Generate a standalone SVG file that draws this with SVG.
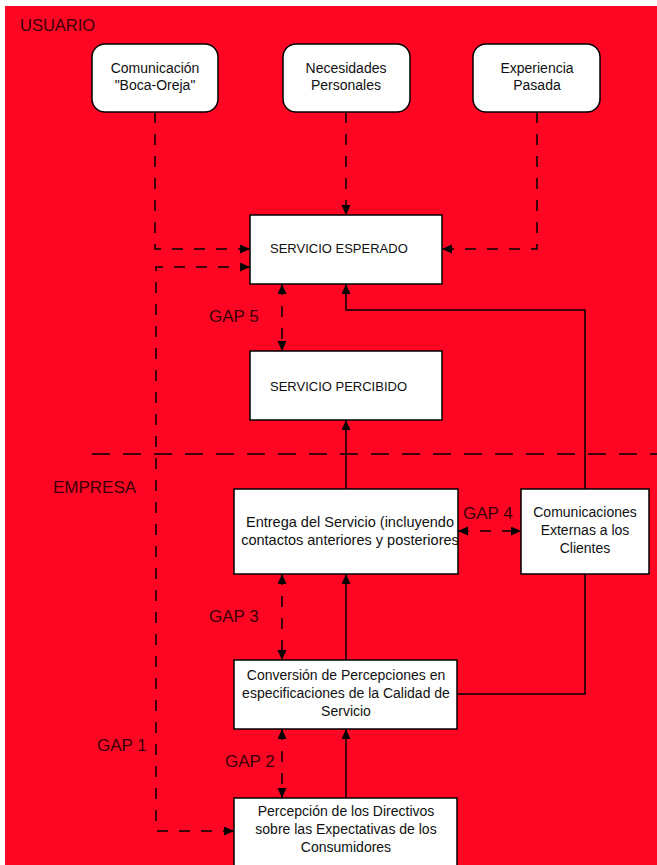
<svg xmlns="http://www.w3.org/2000/svg" width="657" height="865" viewBox="0 0 657 865">
<style>
.box{fill:#fff;stroke:#000;stroke-width:1.5}
.t{font-family:"Liberation Sans",Arial,sans-serif;font-size:14px;fill:#111;text-anchor:middle}
.ts{font-family:"Liberation Sans",Arial,sans-serif;font-size:13px;fill:#111}
.lbl{font-family:"Liberation Sans",Arial,sans-serif;font-size:17px;fill:#3a0008}
.c{fill:none;stroke:#000;stroke-width:1.5}
.d{stroke-dasharray:11 11}
</style>
<defs>
<marker id="ah" markerUnits="userSpaceOnUse" markerWidth="12" markerHeight="10" refX="10" refY="4.5" orient="auto-start-reverse">
<path d="M0,0 L10,4.5 L0,9 Z" fill="#000"/>
</marker>
</defs>
<rect x="0" y="0" width="657" height="865" fill="#fff"/>
<rect x="5" y="6" width="652" height="859" fill="#fe0523"/>
<text class="lbl" x="20" y="31" style="font-size:16.5px">USUARIO</text>
<text class="lbl" x="53" y="493">EMPRESA</text>
<line x1="92" y1="454" x2="657" y2="454" stroke="#000" stroke-width="1.5" stroke-dasharray="18 13"/>
<g id="connectors">
<path class="c d" d="M155,112 V249 H250" marker-end="url(#ah)"/>
<path class="c d" d="M346,112 V215" marker-end="url(#ah)"/>
<path class="c d" d="M537,112 V249 H442" marker-end="url(#ah)"/>
<path class="c d" d="M234,831 H156 V267 H250" marker-start="url(#ah)" marker-end="url(#ah)"/>
<path class="c d" d="M282,284 V351" marker-start="url(#ah)" marker-end="url(#ah)"/>
<path class="c d" d="M458,531 H521" marker-start="url(#ah)" marker-end="url(#ah)"/>
<path class="c d" d="M282,574 V660" marker-start="url(#ah)" marker-end="url(#ah)"/>
<path class="c d" d="M282,729 V798" marker-start="url(#ah)" marker-end="url(#ah)"/>
<path class="c" d="M346,489 V420" marker-end="url(#ah)"/>
<path class="c" d="M346,660 V574" marker-end="url(#ah)"/>
<path class="c" d="M346,798 V729" marker-end="url(#ah)"/>
<path class="c" d="M585,489 V310 H346 V284" marker-end="url(#ah)"/>
<path class="c" d="M457,694 H585 V574"/>
<text class="lbl" x="209" y="322">GAP 5</text>
<text class="lbl" x="463" y="519">GAP 4</text>
<text class="lbl" x="209" y="622">GAP 3</text>
<text class="lbl" x="225" y="767">GAP 2</text>
<text class="lbl" x="97" y="751">GAP 1</text>
</g>
<g id="boca-oreja">
<rect class="box" x="92" y="44" width="126" height="68" rx="13"/>
<text class="t" x="155" y="73">Comunicación</text>
<text class="t" x="155" y="90">"Boca-Oreja"</text>
</g>
<g id="necesidades">
<rect class="box" x="283" y="44" width="127" height="68" rx="13"/>
<text class="t" x="346" y="73">Necesidades</text>
<text class="t" x="346" y="90">Personales</text>
</g>
<g id="experiencia">
<rect class="box" x="473" y="44" width="127" height="68" rx="13"/>
<text class="t" x="537" y="73">Experiencia</text>
<text class="t" x="537" y="90">Pasada</text>
</g>
<g id="esperado">
<rect class="box" x="250" y="215" width="192" height="69"/>
<text class="ts" x="270" y="253">SERVICIO ESPERADO</text>
</g>
<g id="percibido">
<rect class="box" x="250" y="351" width="192" height="69"/>
<text class="ts" x="270" y="391">SERVICIO PERCIBIDO</text>
</g>
<g id="entrega">
<rect class="box" x="234" y="489" width="224" height="85"/>
<text class="t" x="350" y="527" style="font-size:14.5px">Entrega del Servicio (incluyendo</text>
<text class="t" x="350" y="545" style="font-size:14.5px">contactos anteriores y posteriores</text>
</g>
<g id="comunicaciones">
<rect class="box" x="521" y="489" width="128" height="85"/>
<text class="t" x="585" y="517">Comunicaciones</text>
<text class="t" x="585" y="535">Externas a los</text>
<text class="t" x="585" y="553">Clientes</text>
</g>
<g id="conversion">
<rect class="box" x="234" y="660" width="223" height="69"/>
<text class="t" x="346" y="680">Conversión de Percepciones en</text>
<text class="t" x="346" y="698">especificaciones de la Calidad de</text>
<text class="t" x="346" y="716">Servicio</text>
</g>
<g id="percepcion">
<rect class="box" x="234" y="798" width="223" height="80"/>
<text class="t" x="346" y="816">Percepción de los Directivos</text>
<text class="t" x="346" y="834">sobre las Expectativas de los</text>
<text class="t" x="346" y="852">Consumidores</text>
</g>
</svg>
